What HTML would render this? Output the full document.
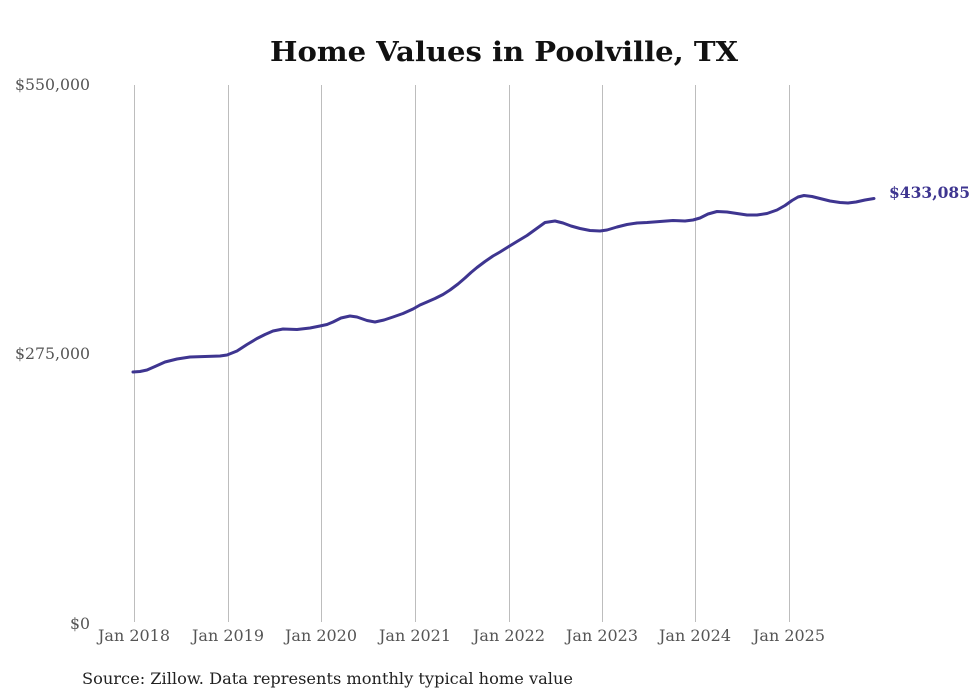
<!DOCTYPE html>
<html><head><meta charset="utf-8"><style>
html,body{margin:0;padding:0;background:#fff;}
svg{display:block;}
text{font-family:"DejaVu Serif","Liberation Serif",serif;}
</style></head><body>
<svg width="980" height="699" viewBox="0 0 980 699" xmlns="http://www.w3.org/2000/svg">
<rect width="980" height="699" fill="#fff"/>
<text x="504" y="61" text-anchor="middle" font-weight="bold" font-size="27" fill="#111" textLength="468" lengthAdjust="spacingAndGlyphs">Home Values in Poolville, TX</text>
<g stroke="#bdbdbd" stroke-width="1">
<line x1="134.5" y1="85" x2="134.5" y2="622"/>
<line x1="228.5" y1="85" x2="228.5" y2="622"/>
<line x1="321.5" y1="85" x2="321.5" y2="622"/>
<line x1="415.5" y1="85" x2="415.5" y2="622"/>
<line x1="509.5" y1="85" x2="509.5" y2="622"/>
<line x1="602.5" y1="85" x2="602.5" y2="622"/>
<line x1="695.5" y1="85" x2="695.5" y2="622"/>
<line x1="789.5" y1="85" x2="789.5" y2="622"/>
</g>
<g font-size="15.5" fill="#555" text-anchor="end">
<text x="90" y="90" textLength="75" lengthAdjust="spacingAndGlyphs">$550,000</text>
<text x="90" y="359" textLength="75" lengthAdjust="spacingAndGlyphs">$275,000</text>
<text x="90" y="629" textLength="20" lengthAdjust="spacingAndGlyphs">$0</text>
</g>
<g font-size="15.5" fill="#555" text-anchor="middle">
<text x="134" y="641" textLength="72" lengthAdjust="spacingAndGlyphs">Jan 2018</text>
<text x="228" y="641" textLength="72" lengthAdjust="spacingAndGlyphs">Jan 2019</text>
<text x="321" y="641" textLength="72" lengthAdjust="spacingAndGlyphs">Jan 2020</text>
<text x="415" y="641" textLength="72" lengthAdjust="spacingAndGlyphs">Jan 2021</text>
<text x="509" y="641" textLength="72" lengthAdjust="spacingAndGlyphs">Jan 2022</text>
<text x="602" y="641" textLength="72" lengthAdjust="spacingAndGlyphs">Jan 2023</text>
<text x="695" y="641" textLength="72" lengthAdjust="spacingAndGlyphs">Jan 2024</text>
<text x="789" y="641" textLength="72" lengthAdjust="spacingAndGlyphs">Jan 2025</text>
</g>
<path fill="none" stroke="#3e3590" stroke-width="3" stroke-linejoin="round" stroke-linecap="round"
d="M133,372 L140,371.5 L147,370 L155,366.5 L165,362 L177,359 L190,357 L205,356.5 L220,356 L227,355 L237,351 L247,344.5 L257,338.5 L265,334.5 L273,331 L283,329 L297,329.5 L310,328 L320,326 L327,324.5 L333,322 L341,318 L350,316 L357,317 L367,320.5 L375,322 L384,320 L393,317 L403,313.5 L413,309 L420,305 L427,302 L435,298.5 L443,294.5 L450,290 L458,284 L465,278 L471,272.5 L477,267.5 L485,261.5 L493,256 L500,252 L508,247 L517,241.5 L527,235.5 L536,229 L545,222.5 L555,221 L563,223 L571,226 L580,228.5 L590,230.5 L600,231 L607,230 L617,227 L627,224.5 L637,223 L647,222.5 L660,221.5 L673,220.5 L685,221 L693,220 L700,218 L708,214 L717,211.5 L727,212 L737,213.5 L747,215 L757,215 L767,213.5 L777,210 L785,205.5 L792,200.5 L798,197 L804,195.5 L812,196.5 L820,198.5 L830,201 L840,202.5 L848,203 L856,202 L865,200 L874,198.5"/>
<text x="889" y="198" font-weight="bold" font-size="15.5" fill="#3e3590" textLength="81" lengthAdjust="spacingAndGlyphs">$433,085</text>
<text x="82" y="684" font-size="16" fill="#222" textLength="491" lengthAdjust="spacingAndGlyphs">Source: Zillow. Data represents monthly typical home value</text>
</svg>
</body></html>
